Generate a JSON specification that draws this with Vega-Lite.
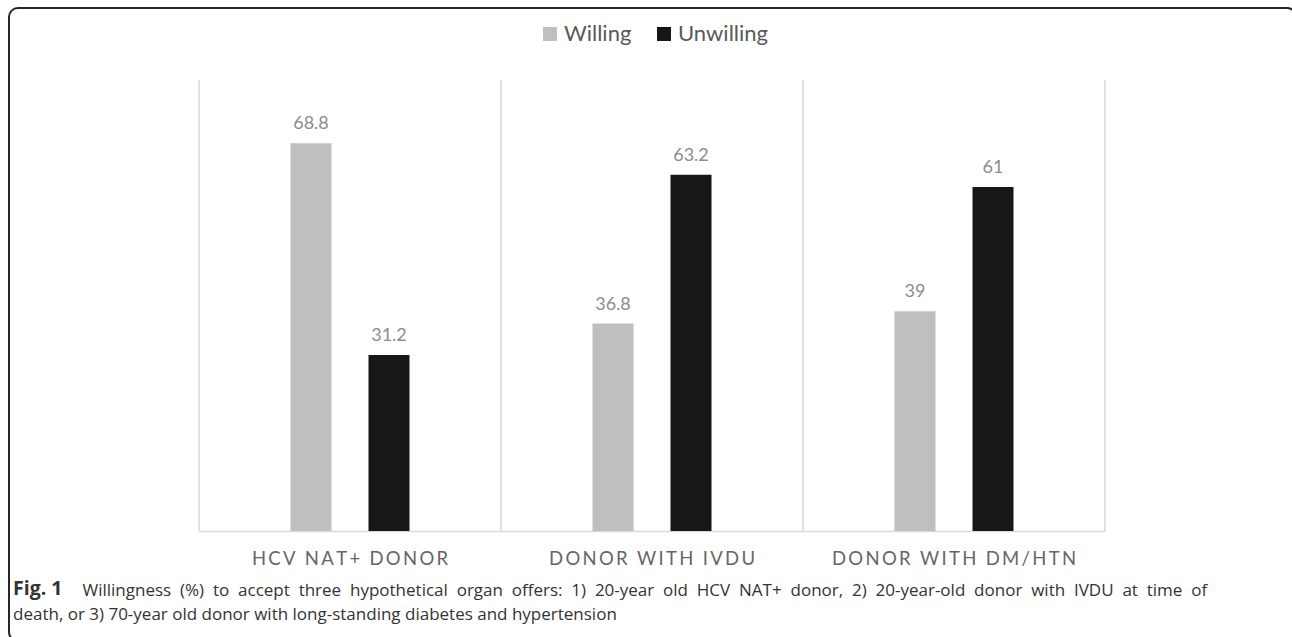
{
  "$schema": "https://vega.github.io/schema/vega-lite/v6.json",
  "width": 1287,
  "height": 633,
  "autosize": {"type": "none"},
  "padding": {"left": 9, "top": 8, "right": -4, "bottom": -4},
  "background": "white",
  "config": {
    "view": {"stroke": "#262626", "strokeWidth": 2, "cornerRadius": 9, "fill": null},
    "font": "Lato"
  },
  "title": {
    "text": "Fig. 1",
    "orient": "bottom",
    "anchor": "start",
    "frame": "group",
    "offset": -61,
    "dx": 4,
    "font": "Open Sans",
    "fontSize": 19.5,
    "fontWeight": "bold",
    "color": "#333333",
    "subtitle": "death, or 3) 70-year old donor with long-standing diabetes and hypertension",
    "subtitleFont": "Open Sans",
    "subtitleFontSize": 17,
    "subtitleColor": "#333333",
    "subtitleFontWeight": "normal",
    "subtitlePadding": 7
  },
  "data": {
    "values": [
      {"category": "HCV NAT+ DONOR", "response": "Willing", "percent": 68.8},
      {"category": "HCV NAT+ DONOR", "response": "Unwilling", "percent": 31.2},
      {"category": "DONOR WITH IVDU", "response": "Willing", "percent": 36.8},
      {"category": "DONOR WITH IVDU", "response": "Unwilling", "percent": 63.2},
      {"category": "DONOR WITH DM/HTN", "response": "Willing", "percent": 39},
      {"category": "DONOR WITH DM/HTN", "response": "Unwilling", "percent": 61}
    ]
  },
  "encoding": {
    "x": {
      "field": "category",
      "type": "nominal",
      "sort": null,
      "scale": {"range": [190, 1096], "paddingInner": 0, "paddingOuter": 0},
      "axis": {
        "title": "Willingness \u00a0(%) \u00a0to \u00a0accept \u00a0three \u00a0hypothetical \u00a0organ \u00a0offers: \u00a01) \u00a020-year \u00a0old \u00a0HCV \u00a0NAT+ \u00a0donor, \u00a02) \u00a020-year-old \u00a0donor \u00a0with \u00a0IVDU \u00a0at \u00a0time \u00a0of",
        "titleX": 73,
        "titleY": 64,
        "titleAlign": "left",
        "titleBaseline": "alphabetic",
        "titleFont": "Open Sans",
        "titleFontSize": 17,
        "titleFontWeight": "normal",
        "titleColor": "#333333",
        "titleLimit": 2000,
        "orient": "bottom",
        "offset": -110,
        "ticks": false,
        "tickSize": 0,
        "domainColor": "#D9D9D9",
        "domainWidth": 1.5,
        "grid": false,
        "labelFont": "Lato",
        "labelFontSize": 18.5,
        "labelColor": "#666666",
        "labelPadding": 18,
        "labelAngle": 0,
        "labelLimit": 400,
        "labelExpr": "join(split(datum.label, ''), '\u2009')"
      }
    },
    "y": {
      "field": "percent",
      "type": "quantitative",
      "scale": {"domain": [0, 80], "range": [523, 72], "nice": false},
      "axis": null
    }
  },
  "layer": [
    {
      "transform": [{"filter": "datum.response === 'Willing'"}],
      "mark": {"type": "rule", "color": "#D9D9D9", "strokeWidth": 1.5},
      "encoding": {
        "x": {"field": "category", "type": "nominal", "sort": null, "bandPosition": 0},
        "y": {"datum": 0},
        "y2": {"datum": 80}
      }
    },
    {
      "transform": [{"filter": "datum.response === 'Willing' && datum.category === 'DONOR WITH DM/HTN'"}],
      "mark": {"type": "rule", "color": "#D9D9D9", "strokeWidth": 1.5},
      "encoding": {
        "x": {"field": "category", "type": "nominal", "sort": null, "bandPosition": 1},
        "y": {"datum": 0},
        "y2": {"datum": 80}
      }
    },
    {
      "mark": {"type": "bar", "width": 41},
      "encoding": {
        "xOffset": {
          "field": "response",
          "type": "nominal",
          "scale": {"domain": ["Willing", "Unwilling"], "paddingInner": 0, "paddingOuter": 0.936}
        },
        "color": {
          "field": "response",
          "type": "nominal",
          "scale": {"domain": ["Willing", "Unwilling"], "range": ["#BFBFBF", "#171717"]},
          "legend": {
            "title": null,
            "orient": "none",
            "legendX": 530,
            "legendY": 15,
            "direction": "horizontal",
            "symbolType": "square",
            "symbolSize": 196,
            "symbolStrokeWidth": 0,
            "labelFont": "Lato",
            "labelFontSize": 22,
            "labelColor": "#595959",
            "labelOffset": 3,
            "columnPadding": 21,
            "padding": 0
          }
        }
      }
    },
    {
      "mark": {"type": "text", "baseline": "bottom", "dy": -10, "fontSize": 18, "color": "#8C8C8C", "font": "Lato"},
      "encoding": {
        "xOffset": {
          "field": "response",
          "type": "nominal",
          "scale": {"domain": ["Willing", "Unwilling"], "paddingInner": 0, "paddingOuter": 0.936}
        },
        "text": {"field": "percent", "type": "quantitative"}
      }
    }
  ]
}
